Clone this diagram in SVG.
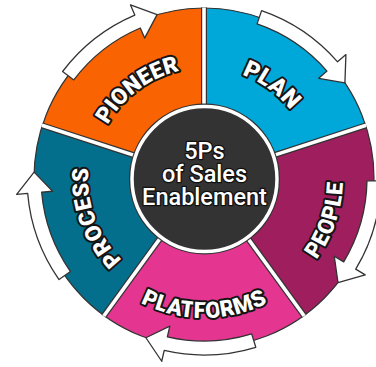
<svg xmlns="http://www.w3.org/2000/svg" xmlns:xlink="http://www.w3.org/1999/xlink" width="376" height="367" viewBox="0 0 376 367">
<style>
.lbl{font-family:Roboto,"Liberation Sans",sans-serif;font-weight:900;font-size:22.5px;fill:#fff;stroke:#141414;stroke-width:4px;paint-order:stroke;stroke-linejoin:round;text-anchor:middle}
.ctr{font-family:Roboto,"Liberation Sans",sans-serif;font-weight:500;font-size:23.5px;fill:#fff;stroke:#111;stroke-width:2.6px;paint-order:stroke;stroke-linejoin:round;text-anchor:middle}
.arrow{fill:#fff;stroke:#333;stroke-width:1.3;stroke-linejoin:round}
.divd{stroke:#333;stroke-width:6;stroke-linecap:butt}
.divw{stroke:#fff;stroke-width:3.6;stroke-linecap:butt}
</style>
<defs>
<path id="sector" d="M0 0 L-161.7 -52.5 A170 170 0 0 1 0 -170 Z"/>
<path id="arrowShape" d="M-141.4 -106.5 A177 177 0 0 1 -69.2 -162.9 L-73.5 -173.1 L-46.9 -163.4 L-59.4 -139.9 L-63.7 -150 A163 163 0 0 0 -130.2 -98.1 Z"/>
<path id="arcPioneer" d="M95.1 162.7 A110 110 0 0 1 219.3 69.1"/>
<path id="arcPlan" d="M186.8 69.4 A110 110 0 0 1 312.6 160.8"/>
<path id="arcPeople" d="M264.9 302.9 A139 139 0 0 0 328.9 117.1"/>
<path id="arcPlatforms" d="M105 277 A140 140 0 0 0 303 277"/>
<path id="arcProcess" d="M155 283.1 A116 116 0 0 1 98.9 129"/>
</defs>
<rect width="376" height="367" fill="#fff"/>
<g id="ring">
<g id="pioneer"><use xlink:href="#sector" transform="translate(204 178)" fill="#F96302"/></g>
<g id="plan"><use xlink:href="#sector" transform="translate(204 178) rotate(72)" fill="#00A8DA"/></g>
<g id="people"><use xlink:href="#sector" transform="translate(204 178) rotate(144)" fill="#9E1E5E"/></g>
<g id="platforms"><use xlink:href="#sector" transform="translate(204 178) rotate(216)" fill="#E43690"/></g>
<g id="process"><use xlink:href="#sector" transform="translate(204 178) rotate(288)" fill="#036F8C"/></g>
<circle cx="204" cy="178" r="170" fill="none" stroke="#333" stroke-width="1.2"/>
<g id="dividers" transform="translate(204 178)">
<g><line class="divd" x1="0" y1="-70" x2="0" y2="-170.5"/><line class="divw" x1="0" y1="-70" x2="0" y2="-170.5"/></g>
<g transform="rotate(72)"><line class="divd" x1="0" y1="-70" x2="0" y2="-170.5"/><line class="divw" x1="0" y1="-70" x2="0" y2="-170.5"/></g>
<g transform="rotate(144)"><line class="divd" x1="0" y1="-70" x2="0" y2="-170.5"/><line class="divw" x1="0" y1="-70" x2="0" y2="-170.5"/></g>
<g transform="rotate(216)"><line class="divd" x1="0" y1="-70" x2="0" y2="-170.5"/><line class="divw" x1="0" y1="-70" x2="0" y2="-170.5"/></g>
<g transform="rotate(288)"><line class="divd" x1="0" y1="-70" x2="0" y2="-170.5"/><line class="divw" x1="0" y1="-70" x2="0" y2="-170.5"/></g>
</g>
</g>
<g id="center">
<circle cx="204.5" cy="179" r="75.5" fill="#333"/>
<circle cx="204.5" cy="179" r="72.5" fill="#333" stroke="#fff" stroke-width="3.5"/>
<text class="ctr" x="204.5" y="159">5Ps</text>
<text class="ctr" x="204.5" y="182">of Sales</text>
<text class="ctr" x="204.5" y="205">Enablement</text>
</g>
<g id="labels">
<text id="t-pioneer" class="lbl"><textPath xlink:href="#arcPioneer" startOffset="50%">PIONEER</textPath></text>
<text id="t-plan" class="lbl" style="font-size:23.5px"><textPath xlink:href="#arcPlan" startOffset="50%">PLAN</textPath></text>
<text id="t-people" class="lbl"><textPath xlink:href="#arcPeople" startOffset="50%">PEOPLE</textPath></text>
<text id="t-platforms" class="lbl"><textPath xlink:href="#arcPlatforms" startOffset="50%">PLATFORMS</textPath></text>
<text id="t-process" class="lbl"><textPath xlink:href="#arcProcess" startOffset="50%">PROCESS</textPath></text>
</g>
<g id="connectors" transform="translate(204 178)">
<use class="arrow" xlink:href="#arrowShape"/>
<use class="arrow" xlink:href="#arrowShape" transform="rotate(72)"/>
<use class="arrow" xlink:href="#arrowShape" transform="rotate(144)"/>
<use class="arrow" xlink:href="#arrowShape" transform="rotate(216)"/>
<use class="arrow" xlink:href="#arrowShape" transform="rotate(288)"/>
</g>
</svg>
